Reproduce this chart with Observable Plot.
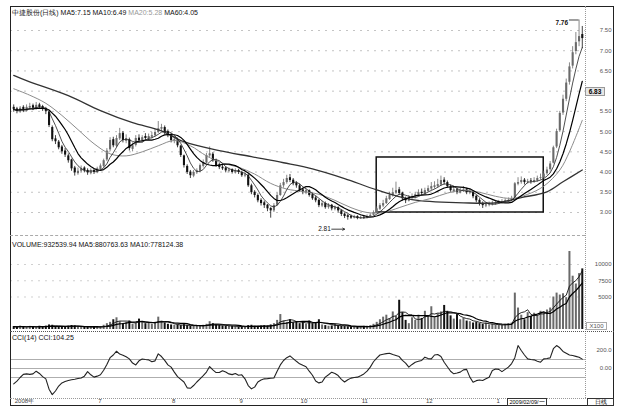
<!DOCTYPE html>
<html><head><meta charset="utf-8">
<script src="https://cdn.jsdelivr.net/npm/d3@7"></script>
<script src="https://cdn.jsdelivr.net/npm/@observablehq/plot@0.6"></script>
<style>
html,body{margin:0;padding:0;background:#fff;}
#wrap{position:relative;width:620px;height:415px;background:#fff;overflow:hidden;font-family:"Liberation Sans",Arial,sans-serif;}
.panel{position:absolute;left:0;width:620px;}
.lbl{position:absolute;white-space:nowrap;font-size:7px;line-height:8px;color:#111;}
.box{position:absolute;border:1px solid #333;font-size:6px;line-height:7px;text-align:center;box-sizing:border-box;white-space:nowrap;overflow:hidden;}
.ln{position:absolute;box-sizing:border-box;}
</style></head><body>
<div id="wrap">
 <div id="main" class="panel" style="top:0"></div>
 <div id="vol" class="panel" style="top:235px"></div>
 <div id="cci" class="panel" style="top:332px"></div>
</div>
<script>
// ---- daily candles (index 0 = first bar, 2008) ----
const open = [
5.60,5.56,5.48,5.60,5.50,5.58,5.64,5.56,5.66,5.62,
5.56,5.48,5.10,4.82,4.74,4.62,4.52,4.40,4.30,4.10,
3.96,4.02,4.10,4.04,3.96,4.04,3.98,4.06,4.14,4.30,
4.55,4.80,4.64,4.82,4.96,4.76,4.80,4.56,4.66,4.84,
4.76,4.88,4.82,4.86,4.90,4.98,5.06,5.10,5.00,4.92,
4.76,4.80,4.64,4.40,4.14,4.00,3.90,3.98,4.02,4.14,
4.22,4.40,4.44,4.28,4.18,4.12,4.10,4.02,4.06,3.98,
4.04,3.98,3.90,3.92,3.66,3.50,3.42,3.30,3.24,3.18,
3.10,3.04,3.18,3.42,3.66,3.74,3.86,3.80,3.72,3.66,
3.56,3.48,3.54,3.44,3.36,3.30,3.16,3.22,3.12,3.18,
3.08,3.12,3.04,2.96,2.92,2.90,2.86,2.90,2.84,2.88,
2.86,2.90,2.93,3.00,3.08,3.16,3.22,3.32,3.42,3.48,
3.56,3.48,3.34,3.28,3.36,3.38,3.42,3.50,3.46,3.52,
3.58,3.62,3.64,3.68,3.80,3.74,3.64,3.52,3.56,3.48,
3.52,3.56,3.48,3.50,3.40,3.30,3.22,3.16,3.18,3.20,
3.21,3.23,3.25,3.26,3.28,3.30,3.36,3.70,3.74,3.80,
3.74,3.78,3.76,3.78,3.84,3.86,3.96,4.06,4.22,4.62,
5.02,5.46,5.80,6.22,6.62,6.98,7.22,7.40];
const close = [
5.55,5.50,5.58,5.52,5.60,5.62,5.58,5.65,5.60,5.55,
5.50,5.15,4.80,4.75,4.60,4.50,4.42,4.28,4.08,3.98,
4.02,4.08,4.03,3.98,4.03,3.99,4.08,4.15,4.28,4.52,
4.78,4.65,4.83,4.95,4.78,4.83,4.58,4.65,4.83,4.78,
4.85,4.83,4.88,4.90,4.98,5.07,5.10,4.98,4.90,4.78,
4.80,4.65,4.41,4.16,3.99,3.91,3.99,4.03,4.16,4.23,
4.41,4.45,4.28,4.16,4.11,4.08,4.03,4.05,3.99,4.03,
3.99,3.91,3.93,3.66,3.49,3.42,3.29,3.22,3.17,3.09,
3.04,3.17,3.42,3.66,3.74,3.84,3.79,3.71,3.66,3.54,
3.49,3.54,3.42,3.34,3.29,3.17,3.22,3.12,3.17,3.09,
3.12,3.04,2.95,2.90,2.88,2.86,2.89,2.85,2.87,2.86,
2.90,2.93,3.00,3.09,3.17,3.22,3.34,3.42,3.49,3.54,
3.47,3.34,3.29,3.37,3.39,3.44,3.49,3.47,3.54,3.59,
3.64,3.66,3.69,3.79,3.74,3.64,3.54,3.56,3.49,3.54,
3.56,3.49,3.51,3.39,3.29,3.22,3.17,3.19,3.21,3.22,
3.24,3.26,3.27,3.29,3.30,3.34,3.71,3.74,3.79,3.74,
3.76,3.76,3.79,3.84,3.86,3.95,4.05,4.20,4.60,5.00,
5.45,5.80,6.20,6.60,6.95,7.20,7.35,7.30];
const high = [
5.66,5.60,5.62,5.64,5.66,5.70,5.68,5.72,5.70,5.65,
5.60,5.50,5.14,4.90,4.78,4.66,4.58,4.45,4.32,4.14,
4.10,4.15,4.13,4.08,4.08,4.07,4.12,4.20,4.32,4.58,
4.85,4.86,4.90,5.08,5.00,4.92,4.84,4.72,4.90,4.92,
4.90,4.95,4.94,4.98,5.05,5.25,5.18,5.14,5.04,4.96,
4.88,4.84,4.66,4.42,4.18,4.04,4.04,4.08,4.20,4.30,
4.46,4.62,4.48,4.32,4.22,4.16,4.12,4.10,4.08,4.08,
4.07,4.02,3.98,3.94,3.70,3.54,3.46,3.34,3.28,3.20,
3.12,3.22,3.48,3.72,3.82,3.92,3.94,3.84,3.76,3.70,
3.60,3.58,3.56,3.48,3.40,3.32,3.28,3.26,3.22,3.20,
3.16,3.14,3.06,2.99,2.95,2.94,2.93,2.92,2.91,2.90,
2.94,2.97,3.04,3.14,3.22,3.30,3.40,3.50,3.60,3.75,
3.62,3.50,3.38,3.42,3.46,3.50,3.56,3.58,3.60,3.66,
3.74,3.76,3.82,3.90,3.86,3.78,3.68,3.62,3.60,3.60,
3.64,3.60,3.58,3.52,3.42,3.34,3.26,3.24,3.26,3.28,
3.28,3.30,3.32,3.34,3.36,3.40,3.74,3.86,3.88,3.84,
3.82,3.84,3.86,3.90,3.95,4.02,4.12,4.26,4.64,5.06,
5.50,5.90,6.30,6.70,7.10,7.45,7.76,7.60];
const low = [
5.48,5.44,5.45,5.47,5.48,5.54,5.52,5.53,5.55,5.50,
5.42,5.10,4.75,4.68,4.55,4.44,4.36,4.22,4.02,3.90,
3.92,3.98,3.98,3.92,3.93,3.94,3.96,4.03,4.10,4.26,
4.50,4.60,4.60,4.78,4.72,4.70,4.52,4.50,4.62,4.72,
4.72,4.78,4.78,4.82,4.86,4.95,5.00,4.92,4.85,4.72,
4.70,4.60,4.36,4.10,3.94,3.84,3.86,3.94,4.00,4.10,
4.20,4.36,4.24,4.12,4.06,4.04,3.98,3.98,3.95,3.95,
3.94,3.87,3.86,3.62,3.44,3.36,3.24,3.16,3.10,3.02,
2.86,3.00,3.15,3.40,3.60,3.70,3.74,3.66,3.60,3.50,
3.44,3.44,3.38,3.30,3.24,3.12,3.12,3.08,3.08,3.04,
3.04,2.98,2.90,2.85,2.81,2.83,2.84,2.82,2.83,2.83,
2.84,2.88,2.91,2.98,3.05,3.12,3.20,3.30,3.38,3.44,
3.42,3.28,3.22,3.26,3.32,3.34,3.40,3.42,3.44,3.50,
3.54,3.58,3.60,3.64,3.68,3.60,3.50,3.48,3.44,3.46,
3.50,3.44,3.44,3.34,3.24,3.16,3.10,3.12,3.14,3.16,
3.18,3.20,3.22,3.24,3.25,3.27,3.34,3.66,3.70,3.68,
3.70,3.70,3.72,3.75,3.80,3.82,3.92,4.02,4.20,4.58,
4.98,5.40,5.74,6.15,6.55,6.90,7.10,7.05];
// volume in units of x100 shares
const volume = [
450,380,520,400,350,480,420,360,500,440,
520,700,650,480,420,380,450,500,620,560,
420,380,350,400,320,380,360,420,650,900,
1100,1500,1800,1200,900,1100,1300,800,1000,1600,
1200,900,1000,800,1100,1900,1300,1000,800,700,
650,700,600,750,600,500,550,480,600,650,
800,1200,900,700,600,550,500,480,520,450,
400,420,380,600,650,500,480,520,600,550,
700,900,1400,2300,1300,1100,1500,1000,1200,900,
1100,800,1300,900,1000,1500,700,600,500,550,
800,600,500,450,420,380,400,350,420,480,
500,600,800,1100,1500,1900,2200,1700,2700,2000,
4500,2600,1400,900,1800,1400,2200,1700,2800,2000,
3500,1900,2400,2700,3700,2800,2100,1600,2300,1500,
1700,1300,1200,1000,1100,900,800,1000,700,800,
650,700,600,800,900,1000,5600,3300,2200,1500,
2600,2000,2500,2100,2800,2600,3000,3300,5000,5600,
5300,5500,4900,12000,8200,7000,8600,9325];
// CCI(14)
const cci = [
-170,-140,-100,-65,-60,-65,-60,-30,-55,-90,
-115,-230,-290,-250,-195,-160,-145,-133,-125,-120,
-112,-105,-85,-35,-70,-96,-85,-70,-20,45,
120,150,192,160,148,130,107,60,40,85,
105,100,96,75,85,163,133,90,40,15,
-40,-90,-120,-150,-215,-220,-189,-150,-115,-80,
-40,22,-15,-45,-45,-25,-40,-60,-68,-55,
-75,-70,-115,-190,-226,-207,-150,-128,-115,-112,
-108,-105,-30,40,89,120,140,110,80,52,
35,20,-30,-75,-140,-160,-150,-96,-70,-41,
-55,-78,-120,-150,-125,-107,-100,-96,-80,-60,
-30,15,75,115,150,158,165,170,155,144,
133,90,60,15,45,70,80,89,126,110,
107,150,155,133,70,20,-30,-59,-50,-40,
-15,-10,-96,-152,-135,-128,-133,-115,-96,-22,
-5,-10,-35,-10,15,55,120,255,200,150,
107,100,96,80,70,107,112,118,220,255,
230,190,170,150,144,135,125,104.25];
// MA20 / MA60 (bar index, value)
const ma20Idx = [0,5,10,15,20,25,30,35,40,45,50,55,60,65,70,75,80,85,90,95,100,105,110,115,120,125,130,135,140,145,150,155,160,165,170,173,177];
const ma20Val = [6.06,5.90,5.70,5.40,5.05,4.70,4.45,4.40,4.50,4.65,4.78,4.65,4.40,4.22,4.12,3.95,3.72,3.58,3.52,3.45,3.30,3.12,3.00,3.00,3.12,3.25,3.35,3.48,3.55,3.50,3.40,3.35,3.45,3.65,4.05,4.50,5.28];
const ma60Idx = [0,4,17,27,37,46,53,64,74,84,93,103,113,124,140,150,158,166,171,177];
const ma60Val = [6.39,6.26,5.89,5.52,5.22,5.02,4.75,4.53,4.38,4.23,4.08,3.84,3.56,3.32,3.24,3.24,3.37,3.51,3.76,4.05];
// axes
const priceTicks = [7.5,7.0,6.5,6.0,5.5,5.0,4.5,4.0,3.5,3.0];
const priceLabelTicks = [7.5,7.0,6.5,5.5,5.0,4.5,4.0,3.5,3.0];
const volTicks = [10000,7500,5000];
const cciRefs = [100,0,-100];
const cciTicks = [200,0];
const cciTickLabels = ["200.0","0.00"];
const monthIdx = [0,26,49,70,89,108,128,150];
const monthLabels = ["2008年","7","8","9","10","11","12","1"];
// highlighted consolidation box (bar index range, price range)
const boxBars = [113,165];
const boxPrice = [3.0,4.36];

const rows = close.map((c,i)=>({i, o:open[i], h:high[i], l:low[i], c, v:volume[i], up:c>=open[i]}));
const cciRows = cci.map((v,i)=>({i, v}));
const ma20 = ma20Idx.map((i,k)=>({i, v:ma20Val[k]}));
const ma60 = ma60Idx.map((i,k)=>({i, v:ma60Val[k]}));
const months = monthIdx.map((i,k)=>({i, t:monthLabels[k]}));
const hiIdx = d3.maxIndex(high), loIdx = d3.minIndex(low);
const hiPt = [{i:hiIdx, v:high[hiIdx]}], loPt = [{i:loIdx, v:low[loIdx]}];
const N = close.length;
const xDom = [-1, N];
const st = {background:"transparent", overflow:"visible", fontFamily:"Liberation Sans, Arial, sans-serif"};
const col = d => d.up ? "#6a6a6a" : "#111";

const mainPlot = Plot.plot({
  width:620, height:235, marginLeft:10, marginRight:35, marginTop:30, marginBottom:23,
  style: st, x:{domain:xDom, axis:null}, y:{domain:[3.0,7.5], axis:null}, color:{type:"identity"},
  marks:[
    Plot.ruleY(priceTicks, {stroke:"#aaa", strokeWidth:0.7, strokeDasharray:"2,5"}),
    Plot.rect([{x1:boxBars[0], x2:boxBars[1], y1:boxPrice[0], y2:boxPrice[1]}], {x1:"x1", x2:"x2", y1:"y1", y2:"y2", fill:"none", stroke:"#111", strokeWidth:1.5}),
    Plot.ruleX(rows, {x:"i", y1:"l", y2:"h", stroke:col, strokeWidth:0.8}),
    Plot.ruleX(rows, {x:"i", y1:"o", y2:"c", stroke:col, strokeWidth:2.1}),
    Plot.line(ma60, {x:"i", y:"v", curve:"catmull-rom", stroke:"#333", strokeWidth:1.3}),
    Plot.line(ma20, {x:"i", y:"v", curve:"catmull-rom", stroke:"#8c8c8c", strokeWidth:1}),
    Plot.lineY(rows, Plot.windowY({k:10, anchor:"end"}, {x:"i", y:"c", stroke:"#000", strokeWidth:1.2})),
    Plot.lineY(rows, Plot.windowY({k:5, anchor:"end"}, {x:"i", y:"c", stroke:"#222", strokeWidth:0.8})),
    Plot.text(priceLabelTicks, {y:d=>d, text:d=>d.toFixed(2), frameAnchor:"right", dx:26, textAnchor:"end", fontSize:6, fill:"#555"}),
    Plot.ruleY(hiPt, {y:"v", x1:d=>d.i-3, x2:d=>d.i, stroke:"#111", strokeWidth:0.8}),
    Plot.text(hiPt, {x:"i", y:"v", text:d=>d.v.toFixed(2), dx:-11, dy:3, textAnchor:"end", fontSize:6.5, fontWeight:"bold", fill:"#111"}),
    Plot.arrow(loPt, {x1:d=>d.i-5, x2:d=>d.i-1, y1:"v", y2:"v", dy:9, stroke:"#111", strokeWidth:0.8, headLength:4}),
    Plot.text(loPt, {x:"i", y:"v", text:d=>d.v.toFixed(2), dx:-17, dy:9, textAnchor:"end", fontSize:6.5, fill:"#111"})
  ]
});
document.getElementById("main").append(mainPlot);

const volPlot = Plot.plot({
  width:620, height:97, marginLeft:10, marginRight:35, marginTop:29, marginBottom:3,
  style: st, x:{domain:xDom, axis:null}, y:{domain:[0,10000], axis:null}, color:{type:"identity"},
  marks:[
    Plot.ruleY(volTicks, {stroke:"#bbb", strokeWidth:0.7, strokeDasharray:"2,5"}),
    Plot.ruleX(rows, {x:"i", y1:0, y2:"v", stroke:col, strokeWidth:2}),
    Plot.lineY(rows, Plot.windowY({k:5, anchor:"end"}, {x:"i", y:"v", stroke:"#111", strokeWidth:0.9})),
    Plot.lineY(rows, Plot.windowY({k:10, anchor:"end"}, {x:"i", y:"v", stroke:"#000", strokeWidth:1.2})),
    Plot.text(volTicks, {y:d=>d, text:d=>String(d), frameAnchor:"right", dx:26, textAnchor:"end", fontSize:6, fill:"#555"})
  ]
});
document.getElementById("vol").append(volPlot);

const cciPlot = Plot.plot({
  width:620, height:74, marginLeft:10, marginRight:35, marginTop:27, marginBottom:29,
  style: st, x:{domain:xDom, axis:null}, y:{domain:[-100,100], axis:null},
  marks:[
    Plot.ruleY(cciRefs, {stroke:"#999", strokeWidth:0.8}),
    Plot.line(cciRows, {x:"i", y:"v", stroke:"#222", strokeWidth:1.1}),
    Plot.text(cciTicks, {y:d=>d, text:(d,k)=>cciTickLabels[k], frameAnchor:"right", dx:26, textAnchor:"end", fontSize:6, fill:"#555"}),
    Plot.text(months, {x:"i", text:"t", frameAnchor:"bottom", dy:25, dx:1, textAnchor:"start", fontSize:6, fill:"#444"})
  ]
});
document.getElementById("cci").append(cciPlot);

// decorations
const wrap = document.getElementById("wrap");
function add(cls, css, html){ const d=document.createElement("div"); d.className=cls; d.style.cssText=css; if(html) d.innerHTML=html; wrap.append(d); return d; }
add("ln","left:10px;top:6px;width:604px;height:400px;border:1px solid #222;");
add("ln","left:585px;top:6px;width:0;height:392px;border-left:1px dotted #999;");
add("ln","left:10px;top:235px;width:575px;height:0;border-top:1px dashed #aaa;");
add("ln","left:10px;top:331px;width:604px;height:0;border-top:1px dotted #555;");
add("ln","left:10px;top:398px;width:604px;height:0;border-top:1px dotted #999;");
add("lbl","left:12px;top:9px;", '中捷股份(日线) <span>MA5:7.15</span> MA10:6.49 <span style="color:#999">MA20:5.28</span> MA60:4.05');
add("lbl","left:12px;top:241px;", 'VOLUME:932539.94 MA5:880763.63 MA10:778124.38');
add("lbl","left:12px;top:334px;", 'CCI(14) CCI:104.25');
add("box","left:585px;top:87px;width:20px;height:9px;background:#e6e6e6;border-color:#999;font-weight:bold;font-size:6.5px;line-height:7px;", '6.83');
add("box","left:586px;top:322px;width:21px;height:8px;border-color:#aaa;color:#555;", 'X100');
add("box","left:507px;top:398px;width:40px;height:8px;font-size:5.5px;", '2009/02/09/一');
add("box","left:587px;top:398px;width:27px;height:8px;", '日线');
</script>
</body></html>
